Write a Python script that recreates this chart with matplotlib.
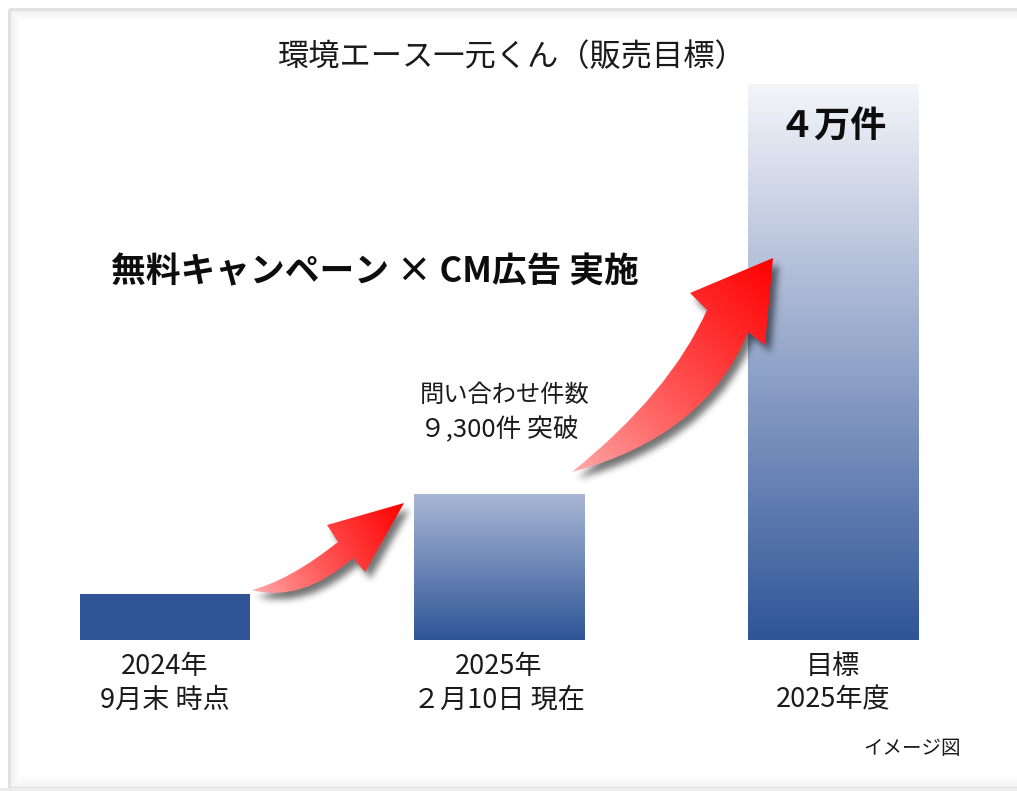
import numpy as np
import matplotlib
matplotlib.use("Agg")
import matplotlib.pyplot as plt
from matplotlib.path import Path
from matplotlib.patches import PathPatch, Rectangle
from matplotlib.colors import LinearSegmentedColormap, to_rgb
from matplotlib.transforms import blended_transform_factory

plt.rcParams['font.family'] = ['Noto Sans CJK JP', 'DejaVu Sans']

# data (illustrative bar heights, target = 40000)
categories = ["2024年\n9月末 時点", "2025年\n２月10日 現在", "目標\n2025年度"]
values = [3300, 10500, 40000]
title = "環境エース一元くん（販売目標）"
headline = "無料キャンペーン × CM広告 実施"
note = "問い合わせ件数\n９,300件 突破"
target_label = "４万件"
footnote = "イメージ図"

W, H = 1017, 791
fig = plt.figure(figsize=(W / 100, H / 100), dpi=100)
fig.patch.set_facecolor("white")

# bar axes: baseline at y=640px from top, 40000 -> 556px tall
ax = fig.add_axes([14.7 / W, 151 / H, 968.6 / W, 556 / H])
ax.set_xlim(-0.45, 2.45)
ax.set_ylim(0, 40000)
ax.axis("off")

blue = "#2F5597"
bars = ax.bar(range(len(values)), values, width=0.509, color=blue, linewidth=0)

grads = [
    None,
    [(0, blue), (1, "#A9B7D5")],
    [(0, blue), (0.61, "#A8B6D4"), (1, "#F4F5F9")],
]
for b, g in zip(bars, grads):
    if g is None:
        continue
    cmap = LinearSegmentedColormap.from_list("g", g)
    x0, w, h = b.get_x(), b.get_width(), b.get_height()
    grad = np.linspace(0, 1, 256).reshape(-1, 1)
    im = ax.imshow(grad, cmap=cmap, aspect="auto", origin="lower",
                   extent=(x0, x0 + w, 0, h), zorder=3)
    im.set_clip_path(b)
ax.set_xlim(-0.45, 2.45)
ax.set_ylim(0, 40000)

# overlay in pixel coords (y down)
ov = fig.add_axes([0, 0, 1, 1], facecolor="none")
ov.set_xlim(0, W)
ov.set_ylim(H, 0)
ov.axis("off")

# frame with soft inner shade
for i in range(12):
    ov.add_patch(Rectangle((9 + i, 9 + i), 1200, 779 - 2 * i, fill=False,
                           edgecolor="#d0d0d0", lw=0.8, alpha=0.25 * (1 - i / 12)))
ov.add_patch(Rectangle((9, 9), 1200, 779, fill=False, edgecolor="#e2e2e2", lw=2.2))
ov.add_patch(Rectangle((0, 788), W, 5, color="#ececec", lw=0))


def arrow_path(tail, c_up, a, h1, tip, h2, b, c_low):
    verts = [tail, c_up, a, h1, tip, h2, b, c_low, tail, tail]
    codes = [Path.MOVETO, Path.CURVE3, Path.CURVE3, Path.LINETO, Path.LINETO,
             Path.LINETO, Path.LINETO, Path.CURVE3, Path.CURVE3, Path.CLOSEPOLY]
    return Path(verts, codes)


def blur(m, s):
    r = int(3 * s)
    k = np.exp(-0.5 * (np.arange(-r, r + 1) / s) ** 2)
    k /= k.sum()
    m = np.apply_along_axis(lambda v: np.convolve(v, k, mode="same"), 0, m)
    m = np.apply_along_axis(lambda v: np.convolve(v, k, mode="same"), 1, m)
    return m


def draw_arrow(p, tail, tip):
    ext = p.get_extents()
    x0, y0 = ext.x0 - 20, ext.y0 - 20
    x1, y1 = ext.x1 + 25, ext.y1 + 25
    xs = np.arange(x0, x1)
    ys = np.arange(y0, y1)
    gx, gy = np.meshgrid(xs, ys)
    # shadow
    dx, dy = 5, 6
    pts = np.c_[(gx - dx).ravel(), (gy - dy).ravel()]
    m = p.contains_points(pts).reshape(gx.shape).astype(float)
    m = blur(m, 3.5)
    sh = np.zeros(gx.shape + (4,))
    sh[..., 3] = 0.55 * m
    ov.imshow(sh, extent=(x0, x1, y1, y0), origin="upper", zorder=4,
              interpolation="bilinear")
    # gradient fill along tail -> tip
    d = np.array(tip) - np.array(tail)
    t = ((gx - tail[0]) * d[0] + (gy - tail[1]) * d[1]) / (d @ d)
    t = np.clip(t, 0, 1)
    c0, c1 = np.array(to_rgb("#FFB0B0")), np.array(to_rgb("#FF0000"))
    img = c0 + (c1 - c0) * t[..., None] ** 0.8
    im = ov.imshow(img, extent=(x0, x1, y1, y0), origin="upper", zorder=5,
                   interpolation="bilinear")
    patch = PathPatch(p, facecolor="none", edgecolor="none", transform=ov.transData)
    ov.add_patch(patch)
    im.set_clip_path(patch)


a1 = arrow_path((252, 590), (290, 580), (338, 542), (327, 525), (404, 503),
                (365, 572), (353, 558), (302, 603))
draw_arrow(a1, (252, 590), (404, 503))
a2 = arrow_path((572, 472), (670, 393), (707, 310), (690, 293), (773, 258),
                (765, 345), (748, 332), (706, 436))
draw_arrow(a2, (572, 472), (773, 258))
ov.set_xlim(0, W)
ov.set_ylim(H, 0)
ov.set_aspect("auto")

# texts
ov.text(512, 57, title, fontsize=22.5, ha="center", va="center", color="#1a1a1a")
ov.text(375, 272, headline, fontsize=25, fontweight="bold", ha="center",
        va="center", color="#0d0d0d")
l1, l2 = note.split("\n")
ov.text(420, 395, l1, fontsize=17.5, ha="left", va="center", color="#1a1a1a")
ov.text(420, 430, l2, fontsize=18.5, ha="left", va="center", color="#1a1a1a")

bt = blended_transform_factory(ax.transData, ov.transData)
for i, c in enumerate(categories):
    a, b = c.split("\n")
    ov.text(i, 667, a, transform=bt, fontsize=19.5, ha="center", va="center", color="#1a1a1a")
    ov.text(i, 700, b, transform=bt, fontsize=19.5, ha="center", va="center", color="#1a1a1a")
ov.text(2, 127, target_label, transform=bt, fontsize=26, fontweight="bold",
        ha="center", va="center", color="#0d0d0d", zorder=6)
ov.text(912, 748, footnote, fontsize=14, ha="center", va="center", color="#1a1a1a")

fig.savefig("out.png", dpi=100)
